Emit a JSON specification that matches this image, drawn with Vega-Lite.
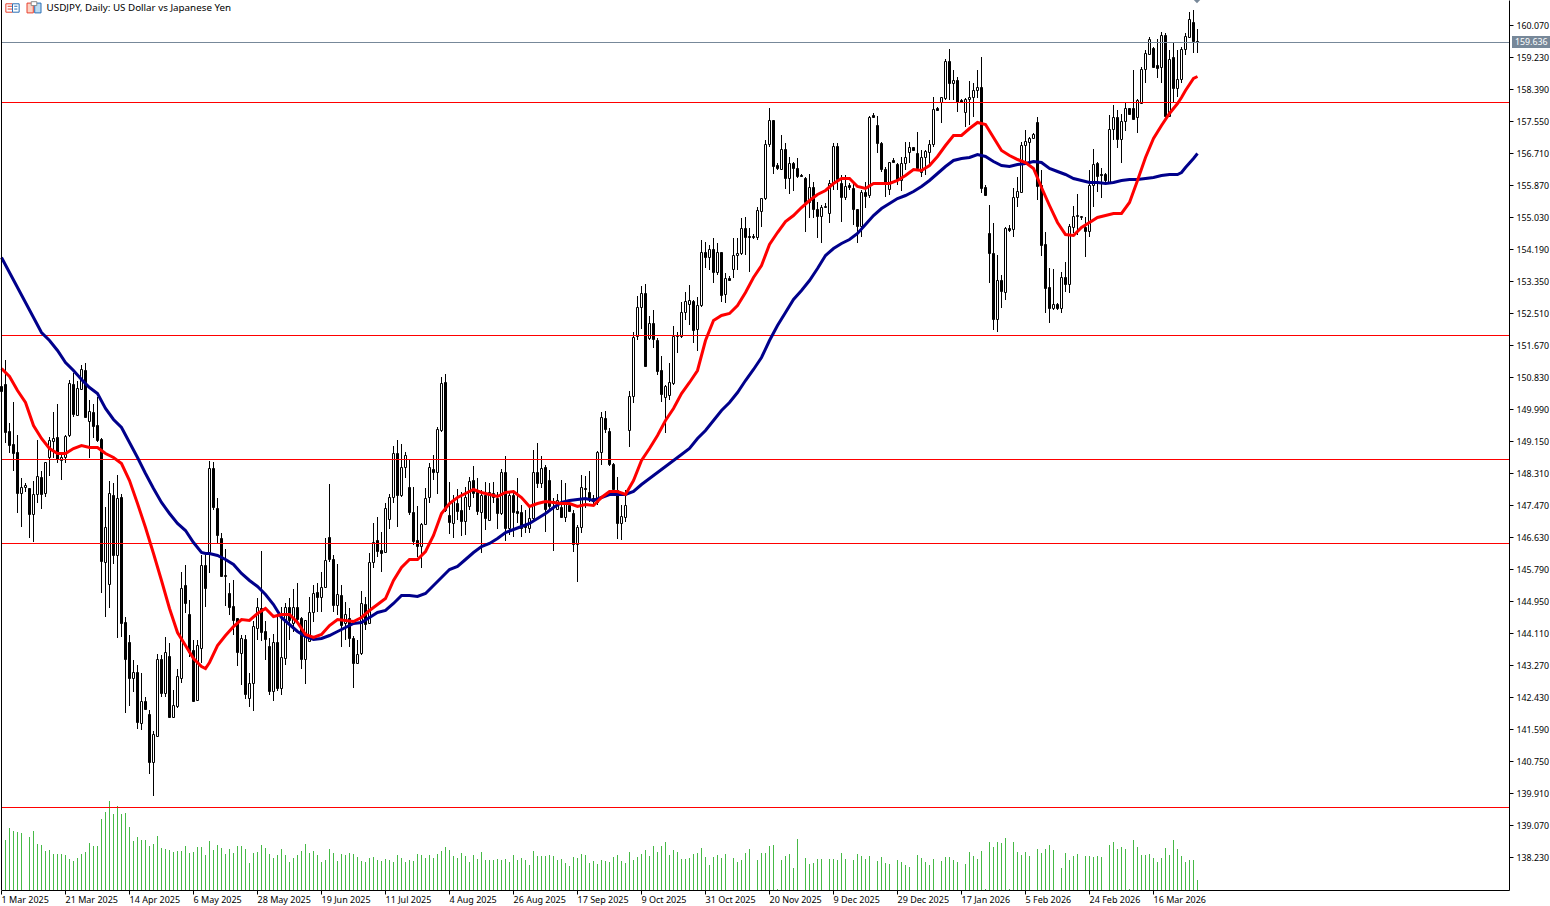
{
  "$schema": "https://vega.github.io/schema/vega-lite/v6.json",
  "width": 1508,
  "height": 890,
  "autosize": "none",
  "padding": {"left": 1, "top": 0, "right": 41, "bottom": 16},
  "background": "white",
  "config": {"view": {"stroke": null}, "font": "Noto Sans"},
  "datasets": {
    "candles": [
      {"i":0,"o":150.61,"h":151.24,"l":150.11,"c":150.47,"v":0},
      {"i":1,"o":150.66,"h":151.29,"l":149.11,"c":149.40,"v":50},
      {"i":2,"o":149.43,"h":149.64,"l":148.85,"c":149.06,"v":62},
      {"i":3,"o":149.08,"h":150.19,"l":148.37,"c":148.85,"v":59},
      {"i":4,"o":148.87,"h":149.32,"l":147.27,"c":147.80,"v":58},
      {"i":5,"o":147.80,"h":148.19,"l":146.90,"c":147.95,"v":57},
      {"i":6,"o":147.95,"h":148.06,"l":147.82,"c":148.01,"v":0},
      {"i":7,"o":147.93,"h":147.93,"l":146.62,"c":147.25,"v":53},
      {"i":8,"o":147.25,"h":148.11,"l":146.51,"c":147.77,"v":59},
      {"i":9,"o":147.77,"h":149.19,"l":147.54,"c":148.24,"v":46},
      {"i":10,"o":148.22,"h":148.37,"l":147.38,"c":147.77,"v":45},
      {"i":11,"o":147.80,"h":148.61,"l":147.69,"c":148.61,"v":39},
      {"i":12,"o":148.74,"h":149.27,"l":148.24,"c":149.19,"v":40},
      {"i":13,"o":149.16,"h":149.92,"l":148.72,"c":149.24,"v":36},
      {"i":14,"o":149.27,"h":150.13,"l":148.59,"c":148.69,"v":36},
      {"i":15,"o":148.66,"h":148.87,"l":148.14,"c":148.74,"v":36},
      {"i":16,"o":148.74,"h":149.32,"l":148.59,"c":149.29,"v":35},
      {"i":17,"o":149.32,"h":150.76,"l":149.27,"c":150.69,"v":31},
      {"i":18,"o":150.66,"h":150.95,"l":149.79,"c":149.87,"v":29},
      {"i":19,"o":149.84,"h":150.74,"l":149.82,"c":150.55,"v":32},
      {"i":20,"o":150.53,"h":151.16,"l":150.53,"c":151.05,"v":36},
      {"i":21,"o":151.03,"h":151.21,"l":149.79,"c":149.79,"v":38},
      {"i":22,"o":149.69,"h":150.24,"l":148.72,"c":149.95,"v":47},
      {"i":23,"o":149.92,"h":150.13,"l":149.24,"c":149.56,"v":44},
      {"i":24,"o":149.58,"h":150.32,"l":149.14,"c":149.19,"v":44},
      {"i":25,"o":149.21,"h":149.24,"l":145.17,"c":146.01,"v":71},
      {"i":26,"o":145.99,"h":147.43,"l":144.54,"c":146.90,"v":78},
      {"i":27,"o":145.41,"h":148.11,"l":144.78,"c":147.80,"v":89},
      {"i":28,"o":147.74,"h":148.06,"l":145.93,"c":146.17,"v":76},
      {"i":29,"o":146.17,"h":148.27,"l":143.99,"c":147.67,"v":84},
      {"i":30,"o":147.69,"h":147.77,"l":144.02,"c":144.38,"v":76},
      {"i":31,"o":144.41,"h":144.54,"l":142.02,"c":143.44,"v":77},
      {"i":32,"o":143.89,"h":144.07,"l":142.21,"c":142.94,"v":63},
      {"i":33,"o":142.94,"h":143.41,"l":142.57,"c":143.10,"v":49},
      {"i":34,"o":143.10,"h":143.28,"l":141.60,"c":141.79,"v":53},
      {"i":35,"o":141.76,"h":143.07,"l":141.58,"c":142.34,"v":50},
      {"i":36,"o":142.34,"h":142.44,"l":142.10,"c":142.13,"v":50},
      {"i":37,"o":142.00,"h":142.10,"l":140.42,"c":140.74,"v":44},
      {"i":38,"o":140.74,"h":141.55,"l":139.84,"c":141.47,"v":46},
      {"i":39,"o":141.42,"h":143.57,"l":141.39,"c":143.44,"v":54},
      {"i":40,"o":143.44,"h":143.55,"l":142.44,"c":142.55,"v":42},
      {"i":41,"o":142.55,"h":144.02,"l":142.44,"c":143.62,"v":41},
      {"i":42,"o":143.52,"h":143.86,"l":141.92,"c":141.92,"v":40},
      {"i":43,"o":141.92,"h":142.63,"l":141.92,"c":142.23,"v":38},
      {"i":44,"o":142.21,"h":143.18,"l":142.15,"c":142.99,"v":39},
      {"i":45,"o":142.94,"h":145.72,"l":142.81,"c":145.30,"v":39},
      {"i":46,"o":145.38,"h":145.91,"l":144.65,"c":144.91,"v":44},
      {"i":47,"o":144.62,"h":144.99,"l":143.49,"c":143.62,"v":37},
      {"i":48,"o":143.68,"h":143.94,"l":142.31,"c":142.34,"v":38},
      {"i":49,"o":142.36,"h":143.94,"l":142.34,"c":143.81,"v":43},
      {"i":50,"o":143.73,"h":146.17,"l":143.34,"c":145.91,"v":43},
      {"i":51,"o":145.91,"h":146.17,"l":144.80,"c":145.30,"v":35},
      {"i":52,"o":146.25,"h":148.64,"l":145.70,"c":148.45,"v":49},
      {"i":53,"o":148.45,"h":148.61,"l":147.35,"c":147.43,"v":40},
      {"i":54,"o":147.41,"h":147.67,"l":146.49,"c":146.70,"v":45},
      {"i":55,"o":146.62,"h":146.75,"l":145.59,"c":145.62,"v":42},
      {"i":56,"o":145.62,"h":146.33,"l":144.83,"c":145.64,"v":36},
      {"i":57,"o":145.17,"h":145.44,"l":144.60,"c":144.80,"v":41},
      {"i":58,"o":144.83,"h":145.51,"l":144.07,"c":144.46,"v":37},
      {"i":59,"o":144.52,"h":144.52,"l":143.25,"c":143.62,"v":44},
      {"i":60,"o":143.60,"h":144.07,"l":142.76,"c":143.99,"v":44},
      {"i":61,"o":143.97,"h":144.07,"l":142.39,"c":142.52,"v":41},
      {"i":62,"o":142.42,"h":143.07,"l":142.18,"c":142.81,"v":27},
      {"i":63,"o":142.81,"h":144.44,"l":142.08,"c":144.30,"v":37},
      {"i":64,"o":144.25,"h":145.04,"l":143.94,"c":144.80,"v":38},
      {"i":65,"o":144.78,"h":146.27,"l":143.91,"c":144.15,"v":45},
      {"i":66,"o":144.17,"h":144.44,"l":143.41,"c":143.97,"v":42},
      {"i":67,"o":143.78,"h":143.99,"l":142.50,"c":142.60,"v":36},
      {"i":68,"o":142.60,"h":144.09,"l":142.34,"c":143.89,"v":32},
      {"i":69,"o":143.89,"h":144.60,"l":142.60,"c":142.68,"v":35},
      {"i":70,"o":142.68,"h":144.80,"l":142.50,"c":143.49,"v":41},
      {"i":71,"o":143.46,"h":144.91,"l":143.28,"c":144.80,"v":35},
      {"i":72,"o":144.80,"h":145.04,"l":143.94,"c":144.46,"v":28},
      {"i":73,"o":144.38,"h":145.28,"l":144.15,"c":144.80,"v":32},
      {"i":74,"o":144.80,"h":145.44,"l":144.41,"c":144.49,"v":35},
      {"i":75,"o":144.52,"h":144.54,"l":143.18,"c":143.44,"v":39},
      {"i":76,"o":143.44,"h":144.46,"l":142.78,"c":144.46,"v":46},
      {"i":77,"o":143.91,"h":145.07,"l":143.89,"c":144.67,"v":37},
      {"i":78,"o":144.67,"h":145.38,"l":144.41,"c":145.17,"v":39},
      {"i":79,"o":145.20,"h":145.44,"l":144.67,"c":145.07,"v":35},
      {"i":80,"o":145.07,"h":145.72,"l":144.67,"c":145.33,"v":28},
      {"i":81,"o":145.33,"h":146.62,"l":145.30,"c":146.04,"v":30},
      {"i":82,"o":146.64,"h":148.03,"l":145.99,"c":146.07,"v":41},
      {"i":83,"o":146.07,"h":146.17,"l":144.67,"c":144.86,"v":37},
      {"i":84,"o":144.86,"h":145.93,"l":144.60,"c":145.15,"v":29},
      {"i":85,"o":145.12,"h":145.38,"l":143.76,"c":144.33,"v":36},
      {"i":86,"o":144.38,"h":144.94,"l":143.94,"c":144.62,"v":35},
      {"i":87,"o":144.52,"h":144.78,"l":143.76,"c":143.99,"v":37},
      {"i":88,"o":143.99,"h":144.04,"l":142.68,"c":143.34,"v":36},
      {"i":89,"o":143.34,"h":143.94,"l":143.31,"c":143.57,"v":33},
      {"i":90,"o":143.60,"h":145.23,"l":143.55,"c":144.91,"v":29},
      {"i":91,"o":144.88,"h":145.07,"l":144.20,"c":144.36,"v":28},
      {"i":92,"o":144.38,"h":146.22,"l":144.36,"c":145.99,"v":32},
      {"i":93,"o":145.99,"h":147.01,"l":145.83,"c":146.51,"v":33},
      {"i":94,"o":146.56,"h":147.17,"l":146.12,"c":146.27,"v":30},
      {"i":95,"o":146.30,"h":146.77,"l":145.72,"c":146.22,"v":29},
      {"i":96,"o":146.25,"h":147.54,"l":146.22,"c":147.41,"v":31},
      {"i":97,"o":147.11,"h":147.77,"l":146.85,"c":147.69,"v":30},
      {"i":98,"o":147.69,"h":149.03,"l":147.54,"c":148.85,"v":28},
      {"i":99,"o":148.85,"h":149.19,"l":146.90,"c":147.74,"v":35},
      {"i":100,"o":147.74,"h":149.08,"l":147.69,"c":148.48,"v":32},
      {"i":101,"o":148.48,"h":148.87,"l":148.19,"c":148.79,"v":28},
      {"i":102,"o":147.95,"h":148.66,"l":147.22,"c":147.30,"v":30},
      {"i":103,"o":147.30,"h":147.95,"l":146.43,"c":146.54,"v":29},
      {"i":104,"o":146.56,"h":147.46,"l":146.12,"c":146.41,"v":36},
      {"i":105,"o":146.41,"h":147.01,"l":145.83,"c":146.98,"v":35},
      {"i":106,"o":146.98,"h":147.93,"l":146.96,"c":147.67,"v":32},
      {"i":107,"o":147.69,"h":148.59,"l":147.54,"c":148.48,"v":35},
      {"i":108,"o":148.43,"h":148.79,"l":148.14,"c":148.35,"v":32},
      {"i":109,"o":148.35,"h":149.53,"l":147.77,"c":149.48,"v":36},
      {"i":110,"o":149.45,"h":150.84,"l":149.40,"c":150.69,"v":39},
      {"i":111,"o":150.71,"h":150.92,"l":147.30,"c":147.35,"v":43},
      {"i":112,"o":147.22,"h":148.09,"l":146.72,"c":147.04,"v":40},
      {"i":113,"o":147.01,"h":147.74,"l":146.62,"c":147.59,"v":34},
      {"i":114,"o":147.54,"h":147.90,"l":147.09,"c":147.33,"v":32},
      {"i":115,"o":147.35,"h":147.82,"l":146.67,"c":147.06,"v":37},
      {"i":116,"o":147.06,"h":147.95,"l":146.70,"c":147.69,"v":34},
      {"i":117,"o":147.46,"h":148.22,"l":147.35,"c":148.11,"v":28},
      {"i":118,"o":148.14,"h":148.50,"l":147.67,"c":147.80,"v":35},
      {"i":119,"o":147.82,"h":148.19,"l":147.22,"c":147.33,"v":31},
      {"i":120,"o":147.30,"h":147.88,"l":146.22,"c":147.74,"v":38},
      {"i":121,"o":147.74,"h":148.09,"l":146.83,"c":147.14,"v":30},
      {"i":122,"o":147.09,"h":148.06,"l":147.06,"c":147.82,"v":30},
      {"i":123,"o":147.69,"h":148.09,"l":147.54,"c":147.80,"v":30},
      {"i":124,"o":147.67,"h":147.82,"l":146.85,"c":147.27,"v":31},
      {"i":125,"o":147.27,"h":148.43,"l":147.22,"c":148.35,"v":30},
      {"i":126,"o":148.35,"h":148.77,"l":146.54,"c":146.88,"v":31},
      {"i":127,"o":146.88,"h":147.82,"l":146.70,"c":147.74,"v":28},
      {"i":128,"o":147.74,"h":147.88,"l":146.64,"c":147.30,"v":35},
      {"i":129,"o":147.33,"h":148.19,"l":147.01,"c":147.27,"v":30},
      {"i":130,"o":147.30,"h":147.48,"l":146.64,"c":146.88,"v":32},
      {"i":131,"o":146.98,"h":147.35,"l":146.75,"c":146.90,"v":30},
      {"i":132,"o":146.88,"h":147.40,"l":146.75,"c":147.14,"v":25},
      {"i":133,"o":147.14,"h":148.93,"l":147.09,"c":148.35,"v":39},
      {"i":134,"o":148.35,"h":149.11,"l":147.93,"c":148.06,"v":34},
      {"i":135,"o":148.06,"h":148.77,"l":147.93,"c":148.45,"v":34},
      {"i":136,"o":148.48,"h":148.53,"l":146.77,"c":147.38,"v":34},
      {"i":137,"o":148.14,"h":148.40,"l":147.35,"c":147.46,"v":35},
      {"i":138,"o":147.59,"h":147.67,"l":146.28,"c":147.54,"v":34},
      {"i":139,"o":147.38,"h":147.77,"l":147.35,"c":147.61,"v":30},
      {"i":140,"o":147.43,"h":148.14,"l":147.14,"c":147.17,"v":31},
      {"i":141,"o":147.17,"h":148.06,"l":147.04,"c":147.56,"v":27},
      {"i":142,"o":147.48,"h":147.56,"l":147.30,"c":147.33,"v":24},
      {"i":143,"o":147.27,"h":147.35,"l":146.25,"c":146.46,"v":33},
      {"i":144,"o":146.46,"h":146.96,"l":145.46,"c":146.90,"v":32},
      {"i":145,"o":146.90,"h":148.27,"l":146.75,"c":147.95,"v":36},
      {"i":146,"o":147.93,"h":148.24,"l":147.40,"c":147.90,"v":35},
      {"i":147,"o":147.82,"h":148.37,"l":147.56,"c":147.67,"v":27},
      {"i":148,"o":147.67,"h":147.74,"l":147.48,"c":147.59,"v":29},
      {"i":149,"o":147.56,"h":148.90,"l":147.48,"c":148.87,"v":26},
      {"i":150,"o":148.87,"h":149.92,"l":148.53,"c":149.79,"v":30},
      {"i":151,"o":149.77,"h":149.95,"l":149.37,"c":149.48,"v":29},
      {"i":152,"o":149.43,"h":149.50,"l":148.50,"c":148.56,"v":28},
      {"i":153,"o":148.56,"h":148.59,"l":147.82,"c":147.90,"v":33},
      {"i":154,"o":147.88,"h":148.22,"l":146.59,"c":147.01,"v":35},
      {"i":155,"o":147.01,"h":147.48,"l":146.56,"c":147.19,"v":29},
      {"i":156,"o":147.17,"h":147.88,"l":147.04,"c":147.48,"v":27},
      {"i":157,"o":149.45,"h":150.48,"l":149.00,"c":150.34,"v":38},
      {"i":158,"o":150.34,"h":152.02,"l":150.16,"c":151.89,"v":30},
      {"i":159,"o":151.92,"h":152.97,"l":151.81,"c":152.68,"v":33},
      {"i":160,"o":152.68,"h":153.23,"l":152.10,"c":153.05,"v":36},
      {"i":161,"o":153.05,"h":153.28,"l":151.11,"c":151.13,"v":40},
      {"i":162,"o":151.87,"h":152.44,"l":151.81,"c":152.26,"v":34},
      {"i":163,"o":152.26,"h":152.60,"l":151.60,"c":151.84,"v":44},
      {"i":164,"o":151.81,"h":151.87,"l":150.90,"c":151.00,"v":38},
      {"i":165,"o":151.03,"h":151.39,"l":150.19,"c":150.40,"v":44},
      {"i":166,"o":150.32,"h":150.63,"l":149.37,"c":150.61,"v":48},
      {"i":167,"o":150.37,"h":151.21,"l":150.24,"c":150.71,"v":35},
      {"i":168,"o":150.69,"h":152.18,"l":150.63,"c":151.92,"v":40},
      {"i":169,"o":151.92,"h":152.02,"l":151.47,"c":151.95,"v":38},
      {"i":170,"o":151.92,"h":152.81,"l":151.87,"c":152.55,"v":31},
      {"i":171,"o":152.55,"h":153.07,"l":152.34,"c":152.84,"v":31},
      {"i":172,"o":152.76,"h":153.26,"l":152.21,"c":152.86,"v":32},
      {"i":173,"o":152.84,"h":152.86,"l":151.74,"c":152.08,"v":36},
      {"i":174,"o":152.10,"h":152.94,"l":151.53,"c":152.73,"v":37},
      {"i":175,"o":152.73,"h":154.44,"l":152.68,"c":154.12,"v":42},
      {"i":176,"o":154.12,"h":154.39,"l":153.70,"c":153.99,"v":33},
      {"i":177,"o":153.99,"h":154.31,"l":153.65,"c":154.20,"v":25},
      {"i":178,"o":154.20,"h":154.49,"l":153.31,"c":153.60,"v":33},
      {"i":179,"o":153.60,"h":154.36,"l":153.52,"c":154.12,"v":35},
      {"i":180,"o":154.12,"h":154.12,"l":152.81,"c":153.00,"v":32},
      {"i":181,"o":153.02,"h":153.57,"l":152.78,"c":153.44,"v":36},
      {"i":182,"o":153.44,"h":153.49,"l":153.36,"c":153.39,"v":0},
      {"i":183,"o":153.68,"h":154.49,"l":153.44,"c":154.05,"v":32},
      {"i":184,"o":154.05,"h":154.49,"l":153.65,"c":154.10,"v":28},
      {"i":185,"o":154.10,"h":155.02,"l":154.05,"c":154.75,"v":30},
      {"i":186,"o":154.75,"h":155.04,"l":154.05,"c":154.52,"v":37},
      {"i":187,"o":154.54,"h":154.75,"l":153.60,"c":154.52,"v":41},
      {"i":188,"o":154.54,"h":154.60,"l":154.47,"c":154.52,"v":0},
      {"i":189,"o":154.52,"h":155.30,"l":154.44,"c":155.23,"v":30},
      {"i":190,"o":155.20,"h":155.54,"l":154.78,"c":155.54,"v":37},
      {"i":191,"o":155.54,"h":157.06,"l":155.49,"c":156.96,"v":37},
      {"i":192,"o":156.96,"h":157.90,"l":156.88,"c":157.59,"v":44},
      {"i":193,"o":157.59,"h":157.59,"l":156.17,"c":156.38,"v":45},
      {"i":194,"o":156.41,"h":156.46,"l":156.28,"c":156.33,"v":1},
      {"i":195,"o":156.30,"h":157.20,"l":156.28,"c":156.83,"v":30},
      {"i":196,"o":156.83,"h":156.99,"l":155.78,"c":156.07,"v":34},
      {"i":197,"o":156.07,"h":156.62,"l":155.65,"c":156.46,"v":36},
      {"i":198,"o":156.46,"h":156.49,"l":155.73,"c":156.33,"v":22},
      {"i":199,"o":156.33,"h":156.59,"l":156.07,"c":156.12,"v":51},
      {"i":200,"o":156.14,"h":156.17,"l":156.09,"c":156.12,"v":0},
      {"i":201,"o":156.07,"h":156.09,"l":154.65,"c":155.44,"v":32},
      {"i":202,"o":155.44,"h":156.17,"l":155.02,"c":155.83,"v":26},
      {"i":203,"o":155.83,"h":155.96,"l":155.02,"c":155.25,"v":27},
      {"i":204,"o":155.25,"h":155.44,"l":154.49,"c":155.07,"v":31},
      {"i":205,"o":155.07,"h":155.36,"l":154.36,"c":155.30,"v":31},
      {"i":206,"o":155.30,"h":155.41,"l":155.28,"c":155.33,"v":0},
      {"i":207,"o":155.15,"h":156.01,"l":154.89,"c":155.94,"v":31},
      {"i":208,"o":155.94,"h":156.99,"l":155.75,"c":156.91,"v":31},
      {"i":209,"o":156.91,"h":156.99,"l":155.75,"c":156.04,"v":30},
      {"i":210,"o":155.94,"h":156.14,"l":154.91,"c":155.57,"v":37},
      {"i":211,"o":155.57,"h":156.14,"l":155.49,"c":155.86,"v":31},
      {"i":212,"o":155.88,"h":155.94,"l":155.75,"c":155.83,"v":0},
      {"i":213,"o":155.80,"h":155.94,"l":154.83,"c":155.25,"v":30},
      {"i":214,"o":155.25,"h":155.25,"l":154.36,"c":154.81,"v":36},
      {"i":215,"o":154.81,"h":155.75,"l":154.52,"c":155.70,"v":34},
      {"i":216,"o":155.70,"h":155.96,"l":155.28,"c":155.60,"v":31},
      {"i":217,"o":155.62,"h":157.69,"l":155.54,"c":157.67,"v":34},
      {"i":218,"o":157.72,"h":157.77,"l":157.64,"c":157.67,"v":0},
      {"i":219,"o":157.46,"h":157.69,"l":156.72,"c":156.99,"v":29},
      {"i":220,"o":156.99,"h":157.01,"l":156.22,"c":156.30,"v":33},
      {"i":221,"o":156.30,"h":156.35,"l":155.57,"c":155.96,"v":27},
      {"i":222,"o":155.78,"h":156.49,"l":155.62,"c":156.49,"v":26},
      {"i":223,"o":156.54,"h":156.59,"l":156.46,"c":156.49,"v":0},
      {"i":224,"o":156.43,"h":156.46,"l":155.88,"c":156.04,"v":30},
      {"i":225,"o":156.01,"h":156.62,"l":155.73,"c":156.46,"v":28},
      {"i":226,"o":156.46,"h":157.01,"l":156.28,"c":156.62,"v":25},
      {"i":227,"o":156.75,"h":157.01,"l":156.46,"c":156.88,"v":23},
      {"i":228,"o":156.88,"h":156.88,"l":156.78,"c":156.80,"v":0},
      {"i":229,"o":156.72,"h":157.27,"l":156.28,"c":156.33,"v":35},
      {"i":230,"o":156.22,"h":156.80,"l":156.09,"c":156.62,"v":32},
      {"i":231,"o":156.62,"h":156.80,"l":156.14,"c":156.78,"v":28},
      {"i":232,"o":156.75,"h":157.06,"l":156.41,"c":156.96,"v":25},
      {"i":233,"o":156.96,"h":158.19,"l":156.88,"c":157.88,"v":31},
      {"i":234,"o":157.90,"h":157.93,"l":157.83,"c":157.85,"v":0},
      {"i":235,"o":158.06,"h":158.19,"l":157.51,"c":158.19,"v":29},
      {"i":236,"o":158.17,"h":159.19,"l":158.11,"c":159.14,"v":33},
      {"i":237,"o":159.14,"h":159.45,"l":158.11,"c":158.56,"v":33},
      {"i":238,"o":158.56,"h":158.90,"l":158.11,"c":158.64,"v":30},
      {"i":239,"o":158.64,"h":158.72,"l":157.80,"c":158.06,"v":28},
      {"i":240,"o":158.11,"h":158.14,"l":158.03,"c":158.06,"v":0},
      {"i":241,"o":157.80,"h":158.17,"l":157.40,"c":158.14,"v":26},
      {"i":242,"o":158.14,"h":158.61,"l":157.46,"c":158.19,"v":38},
      {"i":243,"o":158.19,"h":158.56,"l":157.67,"c":158.38,"v":34},
      {"i":244,"o":158.38,"h":158.90,"l":158.17,"c":158.46,"v":31},
      {"i":245,"o":158.46,"h":159.24,"l":155.67,"c":155.80,"v":39},
      {"i":246,"o":155.83,"h":155.88,"l":155.60,"c":155.62,"v":1},
      {"i":247,"o":154.62,"h":155.36,"l":153.31,"c":154.10,"v":48},
      {"i":248,"o":154.10,"h":154.89,"l":152.08,"c":152.36,"v":43},
      {"i":249,"o":152.36,"h":154.05,"l":152.02,"c":153.39,"v":48},
      {"i":250,"o":153.39,"h":153.52,"l":152.65,"c":153.10,"v":47},
      {"i":251,"o":153.07,"h":154.78,"l":152.86,"c":154.75,"v":52},
      {"i":252,"o":154.75,"h":154.83,"l":154.65,"c":154.70,"v":1},
      {"i":253,"o":154.73,"h":155.80,"l":154.52,"c":155.57,"v":48},
      {"i":254,"o":155.57,"h":156.09,"l":155.30,"c":155.72,"v":38},
      {"i":255,"o":155.70,"h":157.01,"l":155.67,"c":156.93,"v":35},
      {"i":256,"o":156.93,"h":157.33,"l":156.46,"c":157.04,"v":38},
      {"i":257,"o":157.01,"h":157.14,"l":156.46,"c":157.12,"v":34},
      {"i":258,"o":157.12,"h":157.25,"l":157.09,"c":157.22,"v":0},
      {"i":259,"o":157.54,"h":157.67,"l":155.49,"c":155.86,"v":41},
      {"i":260,"o":155.88,"h":156.28,"l":154.02,"c":154.31,"v":37},
      {"i":261,"o":154.33,"h":154.65,"l":152.52,"c":153.18,"v":41},
      {"i":262,"o":153.21,"h":153.70,"l":152.26,"c":152.65,"v":45},
      {"i":263,"o":152.65,"h":153.68,"l":152.60,"c":152.76,"v":40},
      {"i":264,"o":152.76,"h":152.78,"l":152.60,"c":152.65,"v":0},
      {"i":265,"o":152.65,"h":153.60,"l":152.52,"c":153.47,"v":22},
      {"i":266,"o":153.47,"h":153.86,"l":153.07,"c":153.28,"v":37},
      {"i":267,"o":153.28,"h":154.86,"l":153.05,"c":154.81,"v":30},
      {"i":268,"o":154.78,"h":155.33,"l":154.62,"c":155.07,"v":34},
      {"i":269,"o":155.07,"h":155.65,"l":154.57,"c":155.10,"v":36},
      {"i":270,"o":155.04,"h":155.07,"l":154.96,"c":155.07,"v":0},
      {"i":271,"o":154.78,"h":155.04,"l":153.99,"c":154.68,"v":34},
      {"i":272,"o":154.68,"h":156.28,"l":154.52,"c":155.88,"v":34},
      {"i":273,"o":155.88,"h":156.83,"l":155.30,"c":156.43,"v":33},
      {"i":274,"o":156.46,"h":156.49,"l":155.70,"c":156.12,"v":34},
      {"i":275,"o":156.17,"h":156.33,"l":155.54,"c":156.14,"v":33},
      {"i":276,"o":156.17,"h":156.20,"l":155.96,"c":156.01,"v":0},
      {"i":277,"o":155.96,"h":157.72,"l":155.91,"c":157.35,"v":45},
      {"i":278,"o":157.35,"h":157.98,"l":157.06,"c":157.67,"v":48},
      {"i":279,"o":157.67,"h":157.85,"l":156.85,"c":157.09,"v":41},
      {"i":280,"o":157.09,"h":157.75,"l":156.46,"c":157.56,"v":43},
      {"i":281,"o":157.56,"h":158.06,"l":157.30,"c":157.90,"v":41},
      {"i":282,"o":157.90,"h":157.90,"l":157.72,"c":157.75,"v":1},
      {"i":283,"o":157.90,"h":158.90,"l":157.62,"c":157.62,"v":50},
      {"i":284,"o":157.67,"h":158.14,"l":157.25,"c":158.11,"v":43},
      {"i":285,"o":158.03,"h":158.98,"l":158.01,"c":158.93,"v":35},
      {"i":286,"o":158.93,"h":159.43,"l":158.56,"c":159.35,"v":35},
      {"i":287,"o":159.32,"h":159.77,"l":159.32,"c":159.72,"v":36},
      {"i":288,"o":159.48,"h":159.51,"l":158.95,"c":158.98,"v":32},
      {"i":289,"o":159.03,"h":159.72,"l":158.69,"c":158.95,"v":28},
      {"i":290,"o":158.98,"h":159.90,"l":158.56,"c":159.82,"v":32},
      {"i":291,"o":159.82,"h":159.87,"l":157.56,"c":157.69,"v":42},
      {"i":292,"o":157.69,"h":159.43,"l":157.67,"c":159.19,"v":35},
      {"i":293,"o":159.24,"h":159.64,"l":158.03,"c":158.43,"v":50},
      {"i":294,"o":158.43,"h":159.43,"l":158.19,"c":158.67,"v":41},
      {"i":295,"o":158.67,"h":159.51,"l":158.56,"c":159.45,"v":34},
      {"i":296,"o":159.45,"h":159.87,"l":159.30,"c":159.79,"v":28},
      {"i":297,"o":159.77,"h":160.42,"l":159.77,"c":160.24,"v":30},
      {"i":298,"o":160.16,"h":160.48,"l":159.35,"c":159.66,"v":30},
      {"i":299,"o":159.66,"h":159.98,"l":159.35,"c":159.64,"v":10}
    ],
    "ma": [
      {"i":0,"fast":151.08,"slow":153.99},{"i":2,"fast":150.87,"slow":153.60},{"i":4,"fast":150.50,"slow":153.21},{"i":6,"fast":150.19,"slow":152.81},
      {"i":8,"fast":149.58,"slow":152.42},{"i":10,"fast":149.24,"slow":152.02},{"i":12,"fast":148.98,"slow":151.81},{"i":14,"fast":148.85,"slow":151.55},
      {"i":16,"fast":148.85,"slow":151.24},{"i":18,"fast":148.98,"slow":151.03},{"i":20,"fast":149.06,"slow":150.79},{"i":22,"fast":149.00,"slow":150.58},
      {"i":24,"fast":149.00,"slow":150.42},{"i":26,"fast":148.85,"slow":150.03},{"i":28,"fast":148.74,"slow":149.74},{"i":30,"fast":148.59,"slow":149.53},
      {"i":32,"fast":148.14,"slow":149.14},{"i":34,"fast":147.54,"slow":148.74},{"i":36,"fast":146.90,"slow":148.32},{"i":38,"fast":146.22,"slow":147.93},
      {"i":40,"fast":145.51,"slow":147.56},{"i":42,"fast":144.78,"slow":147.27},{"i":44,"fast":144.15,"slow":147.01},{"i":46,"fast":143.81,"slow":146.83},
      {"i":48,"fast":143.47,"slow":146.51},{"i":50,"fast":143.25,"slow":146.25},{"i":51,"fast":143.20,"slow":146.23},{"i":52,"fast":143.36,"slow":146.22},
      {"i":54,"fast":143.81,"slow":146.17},{"i":56,"fast":144.07,"slow":146.07},{"i":58,"fast":144.30,"slow":145.93},{"i":60,"fast":144.49,"slow":145.70},
      {"i":62,"fast":144.46,"slow":145.51},{"i":64,"fast":144.65,"slow":145.36},{"i":66,"fast":144.78,"slow":145.15},{"i":68,"fast":144.57,"slow":144.88},
      {"i":70,"fast":144.62,"slow":144.54},{"i":72,"fast":144.62,"slow":144.36},{"i":74,"fast":144.41,"slow":144.17},{"i":76,"fast":144.09,"slow":144.04},
      {"i":78,"fast":144.02,"slow":143.97},{"i":80,"fast":144.09,"slow":143.99},{"i":82,"fast":144.33,"slow":144.07},{"i":84,"fast":144.49,"slow":144.17},
      {"i":86,"fast":144.46,"slow":144.28},{"i":88,"fast":144.44,"slow":144.38},{"i":90,"fast":144.54,"slow":144.41},{"i":92,"fast":144.73,"slow":144.54},
      {"i":94,"fast":144.88,"slow":144.67},{"i":96,"fast":145.04,"slow":144.73},{"i":98,"fast":145.51,"slow":144.91},{"i":100,"fast":145.86,"slow":145.12},
      {"i":102,"fast":146.07,"slow":145.12},{"i":104,"fast":146.07,"slow":145.09},{"i":106,"fast":146.27,"slow":145.17},{"i":108,"fast":146.70,"slow":145.38},
      {"i":110,"fast":147.27,"slow":145.59},{"i":112,"fast":147.54,"slow":145.80},{"i":114,"fast":147.69,"slow":145.88},{"i":116,"fast":147.80,"slow":146.07},
      {"i":118,"fast":147.90,"slow":146.25},{"i":120,"fast":147.82,"slow":146.41},{"i":122,"fast":147.77,"slow":146.49},{"i":124,"fast":147.72,"slow":146.62},
      {"i":126,"fast":147.82,"slow":146.77},{"i":128,"fast":147.85,"slow":146.85},{"i":130,"fast":147.69,"slow":146.93},{"i":132,"fast":147.46,"slow":147.01},
      {"i":134,"fast":147.54,"slow":147.14},{"i":136,"fast":147.59,"slow":147.27},{"i":138,"fast":147.56,"slow":147.43},{"i":140,"fast":147.54,"slow":147.56},
      {"i":142,"fast":147.54,"slow":147.61},{"i":144,"fast":147.46,"slow":147.64},{"i":146,"fast":147.51,"slow":147.67},{"i":148,"fast":147.48,"slow":147.61},
      {"i":150,"fast":147.69,"slow":147.69},{"i":152,"fast":147.85,"slow":147.77},{"i":154,"fast":147.85,"slow":147.77},{"i":156,"fast":147.77,"slow":147.77},
      {"i":158,"fast":148.14,"slow":147.85},{"i":160,"fast":148.66,"slow":148.03},{"i":162,"fast":148.98,"slow":148.19},{"i":164,"fast":149.32,"slow":148.35},
      {"i":166,"fast":149.71,"slow":148.50},{"i":168,"fast":150.03,"slow":148.66},{"i":170,"fast":150.42,"slow":148.82},{"i":172,"fast":150.71,"slow":148.98},
      {"i":174,"fast":151.03,"slow":149.24},{"i":176,"fast":151.81,"slow":149.45},{"i":178,"fast":152.34,"slow":149.71},{"i":180,"fast":152.47,"slow":149.98},
      {"i":182,"fast":152.52,"slow":150.19},{"i":184,"fast":152.73,"slow":150.45},{"i":186,"fast":153.07,"slow":150.76},{"i":188,"fast":153.47,"slow":151.05},
      {"i":190,"fast":153.78,"slow":151.37},{"i":192,"fast":154.33,"slow":151.81},{"i":194,"fast":154.65,"slow":152.21},{"i":196,"fast":154.94,"slow":152.55},
      {"i":198,"fast":155.10,"slow":152.89},{"i":200,"fast":155.30,"slow":153.13},{"i":202,"fast":155.49,"slow":153.39},{"i":204,"fast":155.65,"slow":153.70},
      {"i":206,"fast":155.75,"slow":154.05},{"i":208,"fast":155.94,"slow":154.23},{"i":210,"fast":156.07,"slow":154.36},{"i":212,"fast":156.07,"slow":154.47},
      {"i":214,"fast":155.86,"slow":154.62},{"i":216,"fast":155.80,"slow":154.86},{"i":218,"fast":155.94,"slow":155.10},{"i":220,"fast":155.94,"slow":155.28},
      {"i":222,"fast":155.94,"slow":155.41},{"i":224,"fast":156.01,"slow":155.54},{"i":226,"fast":156.14,"slow":155.62},{"i":228,"fast":156.30,"slow":155.73},
      {"i":230,"fast":156.28,"slow":155.86},{"i":232,"fast":156.41,"slow":156.01},{"i":234,"fast":156.64,"slow":156.20},{"i":236,"fast":156.93,"slow":156.38},
      {"i":238,"fast":157.20,"slow":156.54},{"i":240,"fast":157.20,"slow":156.59},{"i":242,"fast":157.38,"slow":156.62},{"i":244,"fast":157.54,"slow":156.70},
      {"i":246,"fast":157.48,"slow":156.64},{"i":248,"fast":157.14,"slow":156.51},{"i":250,"fast":156.80,"slow":156.41},{"i":252,"fast":156.67,"slow":156.38},
      {"i":254,"fast":156.57,"slow":156.43},{"i":256,"fast":156.49,"slow":156.46},{"i":258,"fast":156.33,"slow":156.51},{"i":260,"fast":155.83,"slow":156.49},
      {"i":262,"fast":155.36,"slow":156.33},{"i":264,"fast":154.91,"slow":156.25},{"i":266,"fast":154.60,"slow":156.17},{"i":268,"fast":154.57,"slow":156.07},
      {"i":270,"fast":154.78,"slow":156.01},{"i":272,"fast":154.91,"slow":155.96},{"i":274,"fast":155.04,"slow":155.96},{"i":276,"fast":155.10,"slow":155.94},
      {"i":278,"fast":155.15,"slow":155.96},{"i":280,"fast":155.15,"slow":156.01},{"i":282,"fast":155.44,"slow":156.04},{"i":284,"fast":156.01,"slow":156.04},
      {"i":286,"fast":156.62,"slow":156.07},{"i":288,"fast":157.12,"slow":156.09},{"i":290,"fast":157.46,"slow":156.14},{"i":292,"fast":157.77,"slow":156.17},
      {"i":294,"fast":158.03,"slow":156.17},{"i":295,"fast":158.20,"slow":156.22},{"i":296,"fast":158.38,"slow":156.35},{"i":298,"fast":158.69,"slow":156.59},
      {"i":299,"fast":158.74,"slow":156.72}
    ],
    "levels": [
      {"price":158.06},
      {"price":151.94},
      {"price":148.69},
      {"price":146.49},
      {"price":139.56}
    ],
    "current": [{"i":377,"last":299,"price":159.636,"top":160.739}],
    "header": [
      {"i":11.4,"price":160.516,"text":"USDJPY, Daily:  US Dollar vs Japanese Yen"}
    ],
    "icons": [
      {"icon":"list","i":2.875,"price":160.516},
      {"icon":"docs","i":8.25,"price":160.516}
    ]
  },
  "layer": [
    {
      "data": {"name": "candles"},
      "mark": {"type": "rule", "color": "#46b946", "strokeWidth": 1, "xOffset": 0.5, "x2Offset": 0.5},
      "encoding": {
        "x": {
          "field": "i",
          "type": "quantitative",
          "scale": {"domain": [0, 377], "nice": false, "zero": false, "padding": 0},
          "axis": {
            "title": null,
            "values": [0,16,32,48,64,80,96,112,128,144,160,176,192,208,224,240,256,272,288],
            "grid": false,
            "domainColor": "black",
            "tickColor": "black",
            "tickSize": 4,
            "labelColor": "black",
            "labelFont": "Noto Sans",
            "labelFontSize": 9,
            "labelAlign": "left",
            "labelBaseline": "top",
            "labelPadding": 1,
            "labelOverlap": false,
            "labelBound": false,
            "labelFlush": false,
            "labelExpr": "{'0':'1 Mar 2025','16':'21 Mar 2025','32':'14 Apr 2025','48':'6 May 2025','64':'28 May 2025','80':'19 Jun 2025','96':'11 Jul 2025','112':'4 Aug 2025','128':'26 Aug 2025','144':'17 Sep 2025','160':'9 Oct 2025','176':'31 Oct 2025','192':'20 Nov 2025','208':'9 Dec 2025','224':'29 Dec 2025','240':'17 Jan 2026','256':'5 Feb 2026','272':'24 Feb 2026','288':'16 Mar 2026'}[datum.value]"
          }
        },
        "y": {
          "field": "v",
          "type": "quantitative",
          "title": null,
          "axis": null,
          "scale": {"domain": [0, 890], "nice": false, "round": true}
        },
        "y2": {"datum": 0}
      }
    },
    {
      "layer": [
        {
          "data": {"name": "candles"},
          "mark": {"type": "rule", "color": "black", "strokeWidth": 1, "xOffset": 0.5, "x2Offset": 0.5},
          "encoding": {
            "x": {"field": "i", "type": "quantitative"},
            "y": {
              "field": "l",
              "type": "quantitative",
              "scale": {"domain": [137.376, 160.739], "nice": false, "zero": false, "round": true},
              "axis": {
                "title": null,
                "orient": "right",
                "values": [160.07,159.23,158.39,157.55,156.71,155.87,155.03,154.19,153.35,152.51,151.67,150.83,149.99,149.15,148.31,147.47,146.63,145.79,144.95,144.11,143.27,142.43,141.59,140.75,139.91,139.07,138.23],
                "tickCount": 40,
                "format": ".3f",
                "grid": false,
                "domainColor": "black",
                "tickColor": "black",
                "tickSize": 4,
                "labelColor": "black",
                "labelFont": "Noto Sans",
                "labelFontSize": 8.8,
                "labelPadding": 3,
                "labelOverlap": false,
                "labelBound": false,
                "labelFlush": false
              }
            },
            "y2": {"field": "h"}
          }
        },
        {
          "data": {"name": "candles"},
          "mark": {"type": "bar", "width": 2, "stroke": "black", "strokeWidth": 1, "opacity": 1, "xOffset": 0.5, "yOffset": 0.5, "y2Offset": 0.5},
          "encoding": {
            "x": {"field": "i", "type": "quantitative"},
            "y": {"field": "o", "type": "quantitative"},
            "y2": {"field": "c"},
            "fill": {"condition": {"test": "datum.c < datum.o", "value": "black"}, "value": "white"}
          }
        },
        {
          "data": {"name": "levels"},
          "mark": {"type": "rule", "color": "#ff0000", "strokeWidth": 1, "yOffset": 0.5, "y2Offset": 0.5},
          "encoding": {"y": {"field": "price", "type": "quantitative"}}
        },
        {
          "data": {"name": "current"},
          "mark": {"type": "rule", "color": "#778899", "strokeWidth": 1, "yOffset": 0.5, "y2Offset": 0.5},
          "encoding": {"y": {"field": "price", "type": "quantitative"}}
        },
        {
          "data": {"name": "ma"},
          "mark": {"type": "line", "color": "#00008b", "strokeWidth": 3, "xOffset": 0.5, "yOffset": 0.5},
          "encoding": {
            "x": {"field": "i", "type": "quantitative"},
            "y": {"field": "slow", "type": "quantitative"}
          }
        },
        {
          "data": {"name": "ma"},
          "mark": {"type": "line", "color": "#ff0000", "strokeWidth": 3, "xOffset": 0.5, "yOffset": 0.5},
          "encoding": {
            "x": {"field": "i", "type": "quantitative"},
            "y": {"field": "fast", "type": "quantitative"}
          }
        },
        {
          "data": {"name": "current"},
          "mark": {"type": "point", "shape": "diamond", "filled": true, "color": "#778899", "size": 40, "opacity": 1},
          "encoding": {
            "x": {"field": "last", "type": "quantitative"},
            "y": {"field": "top", "type": "quantitative"}
          }
        },
        {
          "data": {"name": "current"},
          "mark": {"type": "rect", "width": 38, "height": 12, "xOffset": 22, "color": "#778899"},
          "encoding": {
            "x": {"field": "i", "type": "quantitative"},
            "y": {"field": "price", "type": "quantitative"}
          }
        },
        {
          "data": {"name": "current"},
          "mark": {"type": "text", "align": "left", "baseline": "middle", "dx": 6, "color": "white", "font": "Noto Sans", "fontSize": 8.8},
          "encoding": {
            "x": {"field": "i", "type": "quantitative"},
            "y": {"field": "price", "type": "quantitative"},
            "text": {"field": "price", "type": "quantitative", "format": ".3f"}
          }
        },
        {
          "data": {"name": "header"},
          "mark": {"type": "text", "align": "left", "baseline": "middle", "color": "black", "font": "Noto Sans", "fontSize": 9.8},
          "encoding": {
            "x": {"field": "i", "type": "quantitative"},
            "y": {"field": "price", "type": "quantitative"},
            "text": {"field": "text"}
          }
        },
        {
          "data": {"name": "icons"},
          "transform": [{"filter": "datum.icon == 'list'"}],
          "mark": {"type": "point", "filled": false, "stroke": "#e8412e", "strokeWidth": 1, "opacity": 1, "size": 196, "shape": "M0 -.6H-.95V.6H0M-.7 -.25H0M-.7 .15H0"},
          "encoding": {
            "x": {"field": "i", "type": "quantitative"},
            "y": {"field": "price", "type": "quantitative"}
          }
        },
        {
          "data": {"name": "icons"},
          "transform": [{"filter": "datum.icon == 'list'"}],
          "mark": {"type": "point", "filled": false, "stroke": "#2a6fb5", "strokeWidth": 1, "opacity": 1, "size": 196, "shape": "M0 -.6H.95V.6H0ZM.25 -.25H.7M.25 .15H.7"},
          "encoding": {
            "x": {"field": "i", "type": "quantitative"},
            "y": {"field": "price", "type": "quantitative"}
          }
        },
        {
          "data": {"name": "icons"},
          "transform": [{"filter": "datum.icon == 'docs'"}],
          "mark": {"type": "point", "filled": true, "fill": "#fbd3c4", "stroke": "#e8412e", "strokeWidth": 1, "opacity": 1, "size": 196, "shape": "M-1 -.7H-.1V.7H-1Z"},
          "encoding": {
            "x": {"field": "i", "type": "quantitative"},
            "y": {"field": "price", "type": "quantitative"}
          }
        },
        {
          "data": {"name": "icons"},
          "transform": [{"filter": "datum.icon == 'docs'"}],
          "mark": {"type": "point", "filled": true, "fill": "#bcdcf2", "stroke": "#2a6fb5", "strokeWidth": 1, "opacity": 1, "size": 196, "shape": "M.1 -.7H1V.7H.1Z"},
          "encoding": {
            "x": {"field": "i", "type": "quantitative"},
            "y": {"field": "price", "type": "quantitative"}
          }
        },
        {
          "data": {"name": "icons"},
          "transform": [{"filter": "datum.icon == 'docs'"}],
          "mark": {"type": "point", "filled": true, "fill": "#ffffff", "stroke": "#8a8a8a", "strokeWidth": 1, "opacity": 1, "size": 196, "shape": "M-.4 -.9H.4V-.35H-.4Z"},
          "encoding": {
            "x": {"field": "i", "type": "quantitative"},
            "y": {"field": "price", "type": "quantitative"}
          }
        }
      ]
    },
    {
      "data": {"values": [{"i": 0}]},
      "mark": {"type": "rule", "color": "black", "strokeWidth": 1, "xOffset": 0.5, "x2Offset": 0.5},
      "encoding": {"x": {"field": "i", "type": "quantitative"}}
    }
  ],
  "resolve": {"scale": {"y": "independent"}}
}
